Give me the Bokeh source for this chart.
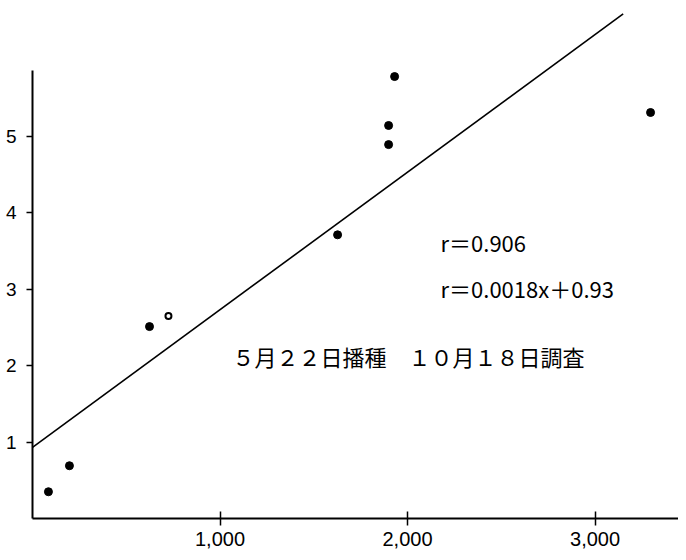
from bokeh.plotting import figure
from bokeh.models import Range1d, FixedTicker, Label
from bokeh.embed import file_html
from bokeh.resources import INLINE

# data
x_filled = [85, 197, 624, 1627, 1899, 1899, 1931, 3296]
y_filled = [0.35, 0.69, 2.51, 3.71, 5.14, 4.89, 5.78, 5.31]
x_open = [725]
y_open = [2.65]

slope = 0.0018
intercept = 0.93
line_x = [0, 3150]
line_y = [slope * v + intercept for v in line_x]

x_ticks = [1000, 2000, 3000]
x_tick_labels = ["1,000", "2,000", "3,000"]
y_ticks = [1, 2, 3, 4, 5]

r_text = "r＝0.906"
eq_text = "r＝0.0018x＋0.93"
note_text = "５月２２日播種　１０月１８日調査"

p = figure(width=678, height=552, x_range=Range1d(0, 3445), y_range=Range1d(0, 6.67),
           output_backend="svg", toolbar_location=None,
           min_border_left=32, min_border_right=0, min_border_top=8, min_border_bottom=34)
p.outline_line_color = None
p.xgrid.visible = False
p.ygrid.visible = False
p.background_fill_color = "white"

xa = p.xaxis[0]
xa.ticker = FixedTicker(ticks=x_ticks)
xa.major_label_overrides = {t: l for t, l in zip(x_ticks, x_tick_labels)}
xa.major_tick_in = 7
xa.major_tick_out = 7
xa.minor_tick_line_color = None
xa.axis_line_width = 2
xa.major_tick_line_width = 1.5
xa.major_label_text_font = "Liberation Sans"
xa.major_label_text_font_size = "20px"
xa.major_label_text_color = "black"
xa.major_label_standoff = 6

ya = p.yaxis[0]
ya.ticker = FixedTicker(ticks=y_ticks)
ya.bounds = (0, 5.86)
ya.major_tick_in = 0
ya.major_tick_out = 6
ya.minor_tick_line_color = None
ya.axis_line_width = 2
ya.major_tick_line_width = 1.5
ya.major_label_text_font = "Liberation Sans"
ya.major_label_text_font_size = "19px"
ya.major_label_text_color = "black"
ya.major_label_standoff = 10

p.line(line_x, line_y, line_color="black", line_width=1.6)
p.scatter(x_filled, y_filled, size=8, color="black")
p.scatter(x_open, y_open, size=6, fill_color="white", line_color="black", line_width=2)

p.add_layout(Label(x=2176, y=3.61, text=r_text, text_font="Noto Sans CJK JP",
                   text_font_size="22px", text_baseline="middle", text_color="black"))
p.add_layout(Label(x=2176, y=3.01, text=eq_text, text_font="Noto Sans CJK JP",
                   text_font_size="22px", text_baseline="middle", text_color="black"))
p.add_layout(Label(x=1067, y=2.12, text=note_text, text_font="Noto Sans CJK JP",
                   text_font_size="22px", text_baseline="middle", text_color="black"))

open("out.html", "w").write(file_html(p, INLINE))
